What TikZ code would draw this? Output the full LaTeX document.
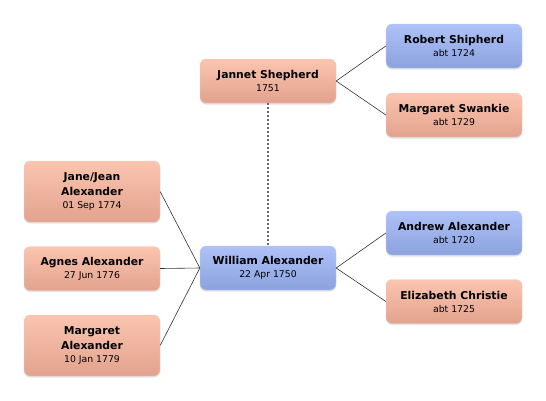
\documentclass[tikz,border=0pt]{standalone}
\usepackage{fontspec}
\setmainfont{DejaVu Sans}
\usetikzlibrary{shadows}
\definecolor{pinkT}{HTML}{FBC5AF}
\definecolor{pinkB}{HTML}{E2A28E}
\definecolor{blueT}{HTML}{AEC2F8}
\definecolor{blueB}{HTML}{8CA2DE}
\tikzset{
  person/.style={rounded corners=6pt, minimum width=136pt, inner sep=2pt, align=center,
    draw=#1B!85!black!40, line width=0.3pt, top color=#1T, bottom color=#1B,
    drop shadow={opacity=0.22, shadow xshift=0pt, shadow yshift=-1.5pt},
    font=\fontsize{10.8}{14.5}\selectfont\bfseries},
  female/.style={person=pink},
  male/.style={person=blue},
  link/.style={draw=black!80, line width=0.6pt},
  spouse/.style={draw=black!60, line width=1.2pt, dash pattern=on 2pt off 2pt}
}
\newcommand{\pdate}[1]{{\mdseries\fontsize{9.3}{12}\selectfont #1}}
\begin{document}
\begin{tikzpicture}[x=1pt,y=1pt]
\useasboundingbox (0,0) rectangle (546,-400);
\node[female, minimum height=44pt] (jannet) at (268,-81) {Jannet Shepherd\\[-1.5pt]\pdate{1751}};
\node[male, minimum height=44pt] (robert) at (454,-46) {Robert Shipherd\\[-1.5pt]\pdate{abt 1724}};
\node[female, minimum height=44pt] (swankie) at (454,-115) {Margaret Swankie\\[-1.5pt]\pdate{abt 1729}};
\node[male, minimum height=44pt] (william) at (268,-268) {William Alexander\\[-1.5pt]\pdate{22 Apr 1750}};
\node[male, minimum height=44pt] (andrew) at (454,-233) {Andrew Alexander\\[-1.5pt]\pdate{abt 1720}};
\node[female, minimum height=44pt] (elizabeth) at (454,-301.5) {Elizabeth Christie\\[-1.5pt]\pdate{abt 1725}};
\node[female, minimum height=61pt] (jane) at (92,-191.5) {Jane/Jean\\Alexander\\[-1.5pt]\pdate{01 Sep 1774}};
\node[female, minimum height=44pt] (agnes) at (92,-268.5) {Agnes Alexander\\[-1.5pt]\pdate{27 Jun 1776}};
\node[female, minimum height=61pt] (margaret) at (92,-345.5) {Margaret\\Alexander\\[-1.5pt]\pdate{10 Jan 1779}};
\draw[link] (jannet.east) -- (robert.west);
\draw[link] (jannet.east) -- (swankie.west);
\draw[link] (william.east) -- (andrew.west);
\draw[link] (william.east) -- (elizabeth.west);
\draw[link] (jane.east) -- (william.west);
\draw[link] (agnes.east) -- (william.west);
\draw[link] (margaret.east) -- (william.west);
\draw[spouse] (jannet.south) -- (william.north);
\end{tikzpicture}
\end{document}
